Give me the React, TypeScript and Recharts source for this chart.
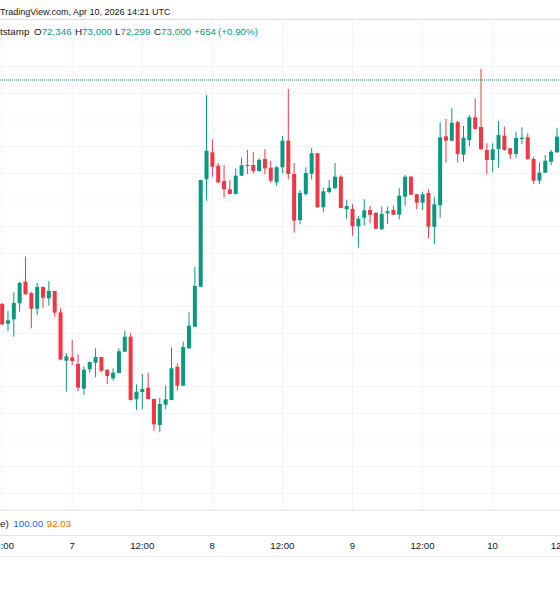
import React from 'react';
import { ComposedChart, Bar, XAxis, YAxis, CartesianGrid, ReferenceLine } from 'recharts';

// hourly candles, first one at Apr 6 12:00 (hours counted from Apr 6 00:00)
const START_HOUR = 12;

const opens = [
  68800, 68431, 68513, 68813, 69218, 69006, 68712, 69119, 68907, 69044,
  68644, 67737, 67801, 67675, 67212, 67576, 67699, 67806, 67568, 67407,
  67506, 67906, 68187, 67013, 67150, 67231, 67019, 66531, 66912, 67000,
  67624, 67268, 67969, 68374, 69124, 71138, 71644, 71393, 71106, 70951,
  70862, 71206, 71406, 71406, 71294, 71519, 71356, 71082, 71363, 71862,
  71238, 70375, 70862, 71243, 71626, 70613, 70900, 70969, 71187, 70576,
  70581, 70257, 70418, 70563, 70512, 70201, 70501, 70563, 70474, 70812,
  71187, 70857, 70699, 70881, 70249, 70651, 71944, 71862, 72213, 71599,
  71875, 72301, 72119, 71688, 71500, 71706, 71956, 71719, 71613, 71894,
  71926, 71519, 71112, 71262, 71468, 71644,
];

const highs = [
  68819, 68669, 69019, 69218, 69687, 69031, 69194, 69125, 69231, 69050,
  68719, 67881, 68131, 67857, 67632, 67720, 67969, 67815, 67575, 67594,
  67969, 68299, 68251, 67294, 67488, 67512, 67025, 67043, 67268, 67988,
  67688, 68093, 68644, 69494, 71131, 72719, 71888, 71438, 71406, 71125,
  71344, 71543, 71688, 71644, 71532, 71701, 71481, 71388, 71950, 72831,
  71444, 70938, 71363, 71725, 71635, 70981, 71125, 71444, 71213, 70756,
  70669, 70450, 70763, 70643, 70520, 70624, 70624, 70643, 70969, 71219,
  71206, 70865, 70906, 70956, 70812, 72207, 72269, 72469, 72231, 72138,
  72344, 72657, 73206, 71813, 71813, 72231, 72124, 71725, 72031, 72113,
  72001, 71562, 71457, 71594, 71688, 72094,
];

const lows = [
  68406, 68294, 68187, 68656, 68975, 68344, 68594, 68731, 68768, 68562,
  67750, 67156, 67656, 67169, 67094, 67512, 67426, 67519, 67300, 67362,
  67500, 67900, 66990, 66812, 66831, 67010, 66424, 66394, 66826, 66995,
  67174, 67260, 67960, 68365, 69115, 70737, 71187, 71063, 70793, 70855,
  70855, 71200, 71238, 71251, 71281, 71232, 71074, 71018, 71251, 71138,
  70137, 70294, 70831, 71138, 70605, 70519, 70876, 70960, 70594, 70394,
  70081, 69856, 70268, 70313, 70201, 70188, 70300, 70468, 70388, 70643,
  70844, 70576, 70563, 70032, 69925, 70418, 71449, 71855, 71449, 71468,
  71763, 72075, 71695, 71232, 71269, 71356, 71674, 71519, 71543, 71794,
  71500, 71050, 71050, 71255, 71406, 71637,
];

const closes = [
  68419, 68494, 68819, 69194, 68982, 68712, 69119, 68918, 69044, 68637,
  67760, 67819, 67731, 67231, 67568, 67712, 67806, 67549, 67450, 67512,
  67913, 68187, 67000, 67156, 67206, 67019, 66544, 66925, 67013, 67594,
  67268, 67994, 68393, 69138, 71125, 71674, 71374, 71082, 70951, 70862,
  71206, 71401, 71388, 71294, 71500, 71344, 71112, 71363, 71862, 71238,
  70362, 70881, 71256, 71626, 70613, 70913, 70981, 71187, 70600, 70638,
  70257, 70399, 70557, 70474, 70212, 70488, 70538, 70474, 70831, 71187,
  70850, 70699, 70857, 70249, 70669, 71926, 71862, 72199, 71613, 71918,
  72301, 72081, 71701, 71500, 71701, 71969, 71688, 71607, 71913, 71918,
  71519, 71112, 71262, 71487, 71656, 71937,
];

const tickHours = [12, 24, 36, 48, 60, 72, 84, 96, 108];
const tickLabels = ['12:00', '7', '12:00', '8', '12:00', '9', '12:00', '10', '12:00'];
const priceGrid = [
  73750, 73250, 72750, 72250, 71750, 71250, 70750, 70250, 69750,
  69250, 68750, 68250, 67750, 67250, 66750, 66250, 65750, 65250,
];
const priceDomain = [64937.5, 74143.75];
const hourDomain = [4.8, 124.66];
const lastPrice = 73000;

const headerText = 'TradingView.com, Apr 10, 2026 14:21 UTC';
const symbolText = 'tstamp';
const ohlcKeys = ['O', 'H', 'L', 'C'];
const ohlcValues = ['72,346', '73,000', '72,299', '73,000'];
const changeText = '+654';
const changePctText = '(+0.90%)';
const indicatorName = 'e)';
const indicatorValues = ['100.00', '92.03'];

const GREEN = '#089981';
const RED = '#f23645';
const TEXT = '#131722';
const FONT = "'Liberation Sans', Arial, sans-serif";

const data = opens.map((o, i) => ({
  hour: START_HOUR + i,
  open: o,
  high: highs[i],
  low: lows[i],
  close: closes[i],
  range: [lows[i], highs[i]],
}));

const Candle = (props: any) => {
  const { x, y, width, height, payload } = props;
  if (!payload || x == null || y == null) return null;
  const { open, close, high, low } = payload;
  const up = close >= open;
  const color = up ? GREEN : RED;
  const span = high - low || 1;
  const py = (p: number) => y + ((high - p) / span) * height;
  const cx = x + width / 2;
  const top = py(Math.max(open, close));
  const bot = py(Math.min(open, close));
  return (
    <g>
      <line x1={cx} x2={cx} y1={y} y2={y + height} stroke={color} strokeWidth={1} />
      <rect x={cx - 2} y={top} width={4} height={Math.max(1, bot - top)} fill={color} />
    </g>
  );
};

const TimeTick = (props: any) => {
  const { x, payload } = props;
  const idx = tickHours.indexOf(payload.value);
  return (
    <text x={x} y={549.3} textAnchor="middle" fontSize={9.6} fill={TEXT} fontFamily={FONT}>
      {idx >= 0 ? tickLabels[idx] : ''}
    </text>
  );
};

const legendX = [34, 75, 115, 154];

export default function App() {
  return (
    <div
      style={{
        position: 'absolute',
        left: 0,
        top: 0,
        width: 560,
        height: 600,
        overflow: 'hidden',
        background: '#ffffff',
      }}
    >
      <div style={{ position: 'absolute', left: -40, top: 0 }}>
        <ComposedChart
          width={700}
          height={570}
          data={data}
          margin={{ top: 19, right: 0, bottom: 0, left: 0 }}
        >
          <CartesianGrid stroke="#f0f3fa" strokeWidth={1} />
          <XAxis
            dataKey="hour"
            type="number"
            domain={hourDomain}
            ticks={tickHours}
            allowDataOverflow
            height={60}
            axisLine={false}
            tickLine={false}
            tick={<TimeTick />}
            interval={0}
          />
          <YAxis hide type="number" domain={priceDomain} ticks={priceGrid} allowDataOverflow />
          <ReferenceLine y={lastPrice} stroke={GREEN} strokeDasharray="1 1" strokeWidth={1} />
          <Bar dataKey="range" barSize={4} shape={(p: any) => <Candle {...p} />} isAnimationActive={false} />
        </ComposedChart>
      </div>
      <svg
        width={560}
        height={600}
        style={{ position: 'absolute', left: 0, top: 0, pointerEvents: 'none' }}
      >
        <line x1={0} x2={560} y1={19.5} y2={19.5} stroke="#e0e3eb" />
        <line x1={0} x2={560} y1={510.5} y2={510.5} stroke="#e0e3eb" />
        <line x1={0} x2={560} y1={535.5} y2={535.5} stroke="#e0e3eb" />
        <line x1={0} x2={560} y1={556.5} y2={556.5} stroke="#eef0f4" />
        <text x={0} y={15.2} fontSize={9} fill={TEXT} fontFamily={FONT}>
          {headerText}
        </text>
        <text x={0} y={35.2} fontSize={9.8} fill={TEXT} fontFamily={FONT}>
          {symbolText}
        </text>
        {ohlcKeys.map((k, i) => (
          <text key={k} x={legendX[i]} y={35.2} fontSize={9.8} fontFamily={FONT}>
            <tspan fill={TEXT}>{k}</tspan>
            <tspan fill={GREEN}>{ohlcValues[i]}</tspan>
          </text>
        ))}
        <text x={194} y={35.2} fontSize={9.8} fill={GREEN} fontFamily={FONT}>
          {changeText}
        </text>
        <text x={218} y={35.2} fontSize={9.8} fill={GREEN} fontFamily={FONT}>
          {changePctText}
        </text>
        <text x={0} y={526.5} fontSize={9.8} fill={TEXT} fontFamily={FONT}>
          {indicatorName}
        </text>
        <text x={13.3} y={526.5} fontSize={9.8} fill="#2962ff" fontFamily={FONT}>
          {indicatorValues[0]}
        </text>
        <text x={46.7} y={526.5} fontSize={9.8} fill="#ff6d00" fontFamily={FONT}>
          {indicatorValues[1]}
        </text>
      </svg>
    </div>
  );
}
